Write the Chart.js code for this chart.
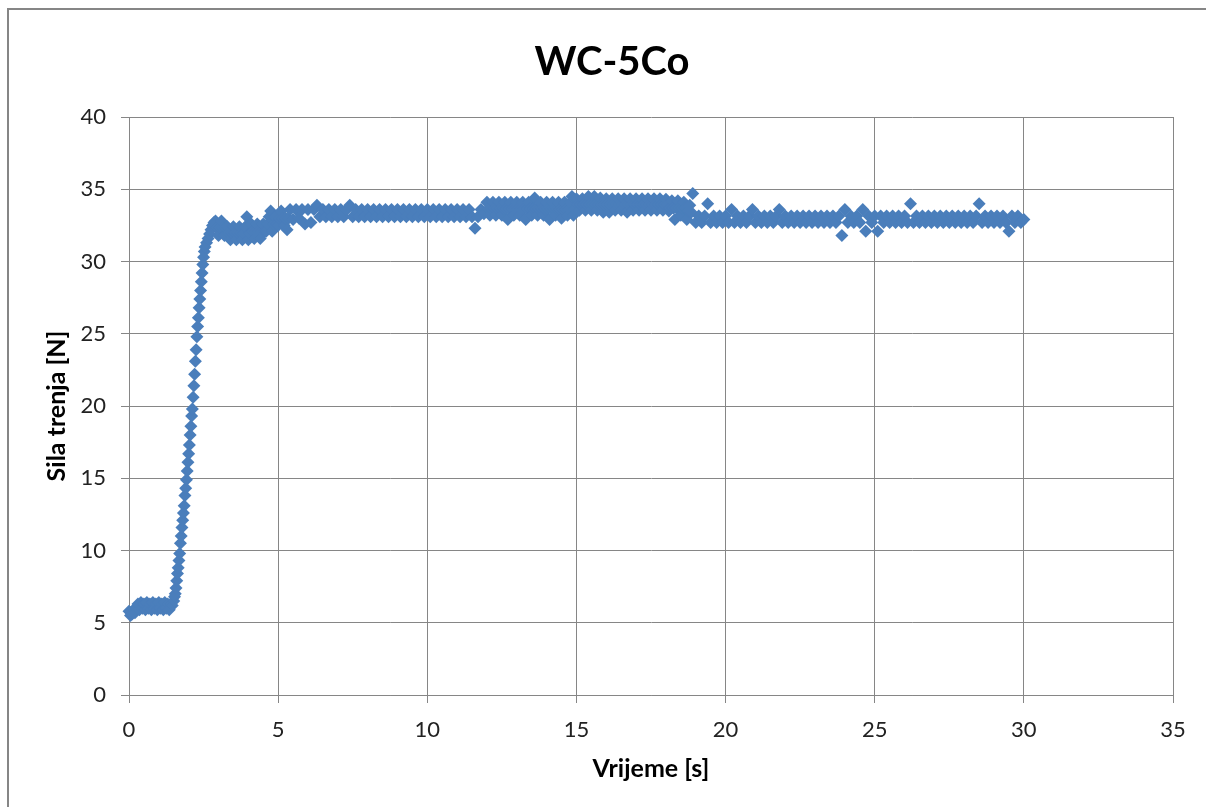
<!DOCTYPE html>
<html>
<head>
<meta charset="utf-8">
<script src="https://cdn.jsdelivr.net/npm/chart.js@4.4.1/dist/chart.umd.min.js"></script>
<style>
  html, body { margin: 0; padding: 0; background: #ffffff; }
  #wrap { position: relative; width: 1206px; height: 807px; }
  canvas { display: block; }
</style>
</head>
<body>
<div id="wrap"><canvas id="c" width="1206" height="807"></canvas></div>
<script>
// ---- data ----
const chartTitle = 'WC-5Co';
const xAxisTitle = 'Vrijeme [s]';
const yAxisTitle = 'Sila trenja [N]';
const xTickValues = [0, 5, 10, 15, 20, 25, 30, 35];
const yTickValues = [0, 5, 10, 15, 20, 25, 30, 35, 40];

// initial low plateau
const lowTime = [0, 0.05, 0.1, 0.15, 0.2, 0.25, 0.3, 0.35, 0.4, 0.45,
                 0.5, 0.55, 0.6, 0.65, 0.7, 0.75, 0.8, 0.85, 0.9, 0.95,
                 1.0, 1.05, 1.1, 1.15, 1.2, 1.25, 1.3, 1.35, 1.4, 1.45];
const lowForce = [5.8, 5.5, 5.6, 5.9, 5.7, 6.0, 6.3, 5.9, 6.4, 6.0,
                  6.3, 5.9, 6.4, 6.0, 6.3, 5.9, 6.4, 6.0, 6.3, 5.9,
                  6.4, 6.0, 6.3, 5.9, 6.4, 6.0, 6.3, 5.9, 6.3, 6.2];

// steep rise
const riseTime = [1.5, 1.525, 1.55, 1.575, 1.6, 1.625, 1.65, 1.675, 1.7, 1.725,
                  1.75, 1.775, 1.8, 1.825, 1.85, 1.875, 1.9, 1.925, 1.95, 1.975,
                  2.0, 2.025, 2.05, 2.075, 2.1, 2.125, 2.15, 2.175, 2.2, 2.225,
                  2.25, 2.275, 2.3, 2.325, 2.35, 2.375, 2.4, 2.425, 2.45, 2.475,
                  2.5, 2.525, 2.55, 2.6, 2.65, 2.7, 2.75, 2.8, 2.85];
const riseForce = [6.5, 6.8, 7.0, 7.4, 7.9, 8.4, 8.8, 9.3, 9.8, 10.5,
                   11.0, 11.6, 12.1, 12.6, 13.1, 13.8, 14.3, 14.9, 15.5, 16.1,
                   16.7, 17.3, 18.0, 18.6, 19.3, 19.8, 20.6, 21.4, 22.2, 23.1,
                   23.9, 24.8, 25.5, 26.1, 26.8, 27.4, 28.0, 28.6, 29.2, 29.8,
                   30.3, 30.7, 31.0, 31.3, 31.6, 31.9, 32.2, 32.5, 32.7];

// settling after the rise (2.9 - 5.35 s)
const settleTime = [2.9, 2.95, 3.0, 3.05, 3.1, 3.15, 3.2, 3.25, 3.3, 3.35,
                    3.4, 3.45, 3.5, 3.55, 3.6, 3.65, 3.7, 3.75, 3.8, 3.85,
                    3.9, 3.95, 4.0, 4.05, 4.1, 4.15, 4.2, 4.25, 4.3, 4.35,
                    4.4, 4.45, 4.5, 4.55, 4.6, 4.65, 4.7, 4.75, 4.8, 4.85,
                    4.9, 4.95, 5.0, 5.05, 5.1, 5.15, 5.2, 5.25, 5.3, 5.35];
const settleForce = [32.8, 32.3, 31.8, 32.3, 32.8, 32.3, 31.8, 32.3, 32.4, 31.95,
                     31.5, 31.95, 32.4, 31.95, 31.5, 31.95, 32.4, 31.95, 31.5, 31.95,
                     32.4, 33.1, 31.5, 31.95, 32.6, 32.1, 31.6, 32.1, 32.6, 32.1,
                     31.6, 32.1, 32.6, 32.1, 32.1, 32.6, 33.1, 33.5, 32.1, 32.6,
                     33.1, 32.6, 32.5, 33.0, 33.5, 33.0, 32.5, 33.0, 32.2, 33.0];

// steady level (5.4 - 11.9 s)
const steadyTime = [5.4, 5.5, 5.6, 5.7, 5.8, 5.9,
  6.0, 6.1, 6.2, 6.3, 6.4, 6.5, 6.6, 6.7, 6.8, 6.9,
  7.0, 7.1, 7.2, 7.3, 7.4, 7.5, 7.6, 7.7, 7.8, 7.9,
  8.0, 8.1, 8.2, 8.3, 8.4, 8.5, 8.6, 8.7, 8.8, 8.9,
  9.0, 9.1, 9.2, 9.3, 9.4, 9.5, 9.6, 9.7, 9.8, 9.9,
  10.0, 10.1, 10.2, 10.3, 10.4, 10.5, 10.6, 10.7, 10.8, 10.9,
  11.0, 11.1, 11.2, 11.3, 11.4, 11.5, 11.6, 11.7, 11.8, 11.9];
const steadyForce = [33.6, 32.9, 33.6, 33.0, 33.6, 32.6,
  33.6, 32.7, 33.6, 33.9, 33.1, 33.6, 33.1, 33.6, 33.1, 33.6,
  33.1, 33.6, 33.1, 33.6, 33.9, 33.1, 33.6, 33.1, 33.6, 33.1,
  33.6, 33.1, 33.6, 33.1, 33.6, 33.1, 33.6, 33.1, 33.6, 33.1,
  33.6, 33.1, 33.6, 33.1, 33.6, 33.1, 33.6, 33.1, 33.6, 33.1,
  33.6, 33.1, 33.6, 33.1, 33.6, 33.1, 33.6, 33.1, 33.6, 33.1,
  33.6, 33.1, 33.6, 33.1, 33.6, 33.1, 32.3, 33.1, 33.6, 33.3];

// higher level (12.0 - 18.85 s)
const highTime = [12.0, 12.05, 12.1, 12.15, 12.2, 12.25, 12.3, 12.35, 12.4, 12.45,
  12.5, 12.55, 12.6, 12.65, 12.7, 12.75, 12.8, 12.85, 12.9, 12.95,
  13.0, 13.05, 13.1, 13.15, 13.2, 13.25, 13.3, 13.35, 13.4, 13.45,
  13.5, 13.55, 13.6, 13.65, 13.7, 13.75, 13.8, 13.85, 13.9, 13.95,
  14.0, 14.05, 14.1, 14.15, 14.2, 14.25, 14.3, 14.35, 14.4, 14.45,
  14.5, 14.55, 14.6, 14.65, 14.7, 14.75, 14.8, 14.85, 14.9, 14.95,
  15.0, 15.05, 15.1, 15.15, 15.2, 15.25, 15.3, 15.35, 15.4, 15.45,
  15.5, 15.55, 15.6, 15.65, 15.7, 15.75, 15.8, 15.85, 15.9, 15.95,
  16.0, 16.05, 16.1, 16.15, 16.2, 16.25, 16.3, 16.35, 16.4, 16.45,
  16.5, 16.55, 16.6, 16.65, 16.7, 16.75, 16.8, 16.85, 16.9, 16.95,
  17.0, 17.05, 17.1, 17.15, 17.2, 17.25, 17.3, 17.35, 17.4, 17.45,
  17.5, 17.55, 17.6, 17.65, 17.7, 17.75, 17.8, 17.85, 17.9, 17.95,
  18.0, 18.05, 18.1, 18.15, 18.2, 18.25, 18.3, 18.35, 18.4, 18.45,
  18.5, 18.55, 18.6, 18.65, 18.7, 18.75, 18.8, 18.85];
const highForce = [34.1, 33.65, 33.2, 33.65, 34.1, 33.65, 33.2, 33.65, 34.1, 33.65,
  33.2, 33.65, 34.1, 33.65, 32.9, 33.65, 34.1, 33.65, 33.2, 33.65,
  34.1, 33.65, 33.2, 33.65, 34.1, 33.65, 32.9, 33.65, 34.1, 33.65,
  33.2, 33.65, 34.4, 33.65, 33.2, 33.65, 34.1, 33.65, 33.2, 33.65,
  34.1, 33.65, 32.9, 33.65, 34.1, 33.65, 33.2, 33.65, 34.1, 33.65,
  33.0, 33.65, 34.1, 33.65, 33.2, 33.65, 34.1, 34.5, 33.2, 33.65,
  34.35, 33.95, 33.55, 33.95, 34.35, 33.95, 33.55, 33.95, 34.5, 33.95,
  33.55, 33.95, 34.5, 33.95, 33.55, 33.95, 34.4, 33.95, 33.4, 33.95,
  34.35, 33.95, 33.4, 33.95, 34.35, 33.95, 33.55, 33.95, 34.35, 33.95,
  33.55, 33.95, 34.35, 33.95, 33.4, 33.95, 34.35, 33.95, 33.55, 33.95,
  34.35, 33.95, 33.55, 33.95, 34.35, 33.95, 33.55, 33.95, 34.35, 33.95,
  33.55, 33.95, 34.35, 33.95, 33.55, 33.95, 34.35, 33.95, 33.55, 33.95,
  34.3, 33.95, 33.5, 33.7, 34.2, 33.7, 32.9, 33.7, 34.2, 33.7,
  33.2, 33.7, 34.1, 33.7, 32.9, 33.5, 33.9, 33.4];

// final level (18.9 - 30.0 s)
const finalTime = [18.9,
  19.0, 19.1, 19.2, 19.3, 19.4, 19.5, 19.6, 19.7, 19.8, 19.9,
  20.0, 20.1, 20.2, 20.3, 20.4, 20.5, 20.6, 20.7, 20.8, 20.9,
  21.0, 21.1, 21.2, 21.3, 21.4, 21.5, 21.6, 21.7, 21.8, 21.9,
  22.0, 22.1, 22.2, 22.3, 22.4, 22.5, 22.6, 22.7, 22.8, 22.9,
  23.0, 23.1, 23.2, 23.3, 23.4, 23.5, 23.6, 23.7, 23.8, 23.9,
  24.0, 24.1, 24.2, 24.3, 24.4, 24.5, 24.6, 24.7, 24.8, 24.9,
  25.0, 25.1, 25.2, 25.3, 25.4, 25.5, 25.6, 25.7, 25.8, 25.9,
  26.0, 26.1, 26.2, 26.3, 26.4, 26.5, 26.6, 26.7, 26.8, 26.9,
  27.0, 27.1, 27.2, 27.3, 27.4, 27.5, 27.6, 27.7, 27.8, 27.9,
  28.0, 28.1, 28.2, 28.3, 28.4, 28.5, 28.6, 28.7, 28.8, 28.9,
  29.0, 29.1, 29.2, 29.3, 29.4, 29.5, 29.6, 29.7, 29.8, 29.9,
  30.0];
const finalForce = [34.7,
  32.7, 33.15, 32.7, 33.15, 34.0, 32.7, 33.15, 32.7, 33.15, 32.7,
  33.15, 32.7, 33.6, 32.7, 33.15, 32.7, 33.15, 32.7, 33.15, 33.6,
  32.7, 33.15, 32.7, 33.15, 32.7, 33.15, 32.7, 33.15, 33.6, 32.7,
  33.15, 32.7, 33.15, 32.7, 33.15, 32.7, 33.15, 32.7, 33.15, 32.7,
  33.15, 32.7, 33.15, 32.7, 33.15, 32.7, 33.15, 32.7, 33.15, 31.8,
  33.6, 32.7, 33.15, 32.7, 33.15, 32.7, 33.6, 32.1, 33.15, 32.7,
  33.15, 32.1, 33.15, 32.7, 33.15, 32.7, 33.15, 32.7, 33.15, 32.7,
  33.15, 32.7, 34.0, 32.7, 33.15, 32.7, 33.15, 32.7, 33.15, 32.7,
  33.15, 32.7, 33.15, 32.7, 33.15, 32.7, 33.15, 32.7, 33.15, 32.7,
  33.15, 32.7, 33.15, 32.7, 33.15, 34.0, 32.7, 33.15, 32.7, 33.15,
  32.7, 33.15, 32.7, 33.15, 32.7, 32.1, 33.15, 32.7, 33.15, 32.7,
  32.9];

// ---- build points from the arrays ----
const allTime = lowTime.concat(riseTime, settleTime, steadyTime, highTime, finalTime);
const allForce = lowForce.concat(riseForce, settleForce, steadyForce, highForce, finalForce);
const points = allTime.map((t, i) => ({ x: t, y: allForce[i] }));

const FONT = "Lato, 'Open Sans', 'DejaVu Sans', sans-serif";
const GRID = '#868686';
const MARK = '#4A7EBB';

const framePlugin = {
  id: 'frame',
  beforeDraw(chart) {
    const c = chart.ctx;
    c.save();
    c.fillStyle = '#ffffff';
    c.fillRect(0, 0, chart.width, chart.height);
    c.fillStyle = '#868686';
    c.fillRect(7, 8, 2, chart.height - 8);
    c.fillRect(7, 8, chart.width - 7, 2);
    c.restore();
  }
};

new Chart(document.getElementById('c'), {
  type: 'scatter',
  data: {
    datasets: [{
      data: points,
      pointStyle: 'rectRot',
      pointRadius: 6.5,
      pointBackgroundColor: MARK,
      pointBorderColor: MARK,
      pointBorderWidth: 0,
      showLine: false,
      clip: false
    }]
  },
  plugins: [framePlugin],
  options: {
    responsive: false,
    animation: false,
    events: [],
    layout: { padding: { left: 51, right: 33, top: 0, bottom: 0 } },
    plugins: {
      legend: { display: false },
      tooltip: { enabled: false },
      title: {
        display: true,
        text: chartTitle,
        color: '#000000',
        font: { family: FONT, size: 40, weight: 'bold', lineHeight: 1.2 },
        padding: { top: 38, bottom: 31 }
      }
    },
    scales: {
      x: {
        type: 'linear',
        min: 0, max: 35,
        afterBuildTicks: s => { s.ticks = xTickValues.map(v => ({ value: v })); },
        afterFit: s => { s.height = 112; },
        ticks: { color: '#222222', font: { family: FONT, size: 22 }, padding: 14, maxRotation: 0 },
        grid: { color: GRID, lineWidth: 1, tickLength: 8, drawTicks: true },
        border: { color: GRID, width: 1 },
        title: {
          display: true, text: xAxisTitle, color: '#000000',
          font: { family: FONT, size: 25, weight: 'bold', lineHeight: 1.2 },
          padding: { top: 0, bottom: 23 }
        }
      },
      y: {
        type: 'linear',
        min: 0, max: 40,
        afterBuildTicks: s => { s.ticks = yTickValues.map(v => ({ value: v })); },
        afterFit: s => { s.width = 78; },
        ticks: { color: '#222222', font: { family: FONT, size: 22 }, padding: 15 },
        grid: { color: GRID, lineWidth: 1, tickLength: 8, drawTicks: true },
        border: { color: GRID, width: 1 },
        title: {
          display: true, text: yAxisTitle, color: '#000000',
          font: { family: FONT, size: 25, weight: 'bold', lineHeight: 1.2 },
          padding: { top: -9, bottom: 0 }
        }
      }
    }
  }
});
</script>
</body>
</html>
